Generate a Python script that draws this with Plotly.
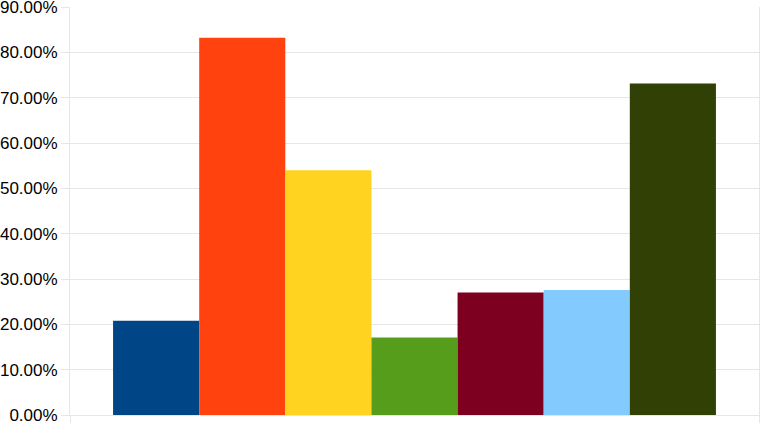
import plotly.graph_objects as go

categories = [""]
series_names = ["S1", "S2", "S3", "S4", "S5", "S6", "S7"]
series_values = [0.208, 0.832, 0.540, 0.171, 0.270, 0.276, 0.731]
colors = ["#004586", "#ff420e", "#ffd320", "#579d1c", "#7e0021", "#83caff", "#314004"]

fig = go.Figure()
for name, val, col in zip(series_names, series_values, colors):
    fig.add_trace(go.Bar(x=categories, y=[val], name=name,
                         marker=dict(color=col, line=dict(width=0))))

fig.update_layout(
    width=761, height=423, barmode="group", bargap=0.125, bargroupgap=0,
    paper_bgcolor="white", plot_bgcolor="white", showlegend=False,
    font=dict(family="Liberation Sans, Arial, sans-serif", size=17, color="#000000"),
    margin=dict(l=70, r=2, t=7, b=8),
)
fig.update_yaxes(range=[0, 0.9], dtick=0.1, tickformat=".2%", automargin=False,
                 ticklabeloverflow="allow",
                 showgrid=True, gridcolor="#e6e6e6", gridwidth=1,
                 ticks="outside", ticklen=8, tickcolor="#e6e6e6",
                 showline=True, mirror=True, linecolor="#e6e6e6", linewidth=1,
                 zeroline=False)
fig.update_xaxes(showticklabels=False, tickson="boundaries", showgrid=False,
                 ticks="outside", ticklen=8, tickcolor="#e6e6e6", automargin=False,
                 showline=True, linecolor="#e6e6e6", zeroline=False)

fig.write_html("out.html", config={"displayModeBar": False},
               post_script="document.body.style.margin='0';")
